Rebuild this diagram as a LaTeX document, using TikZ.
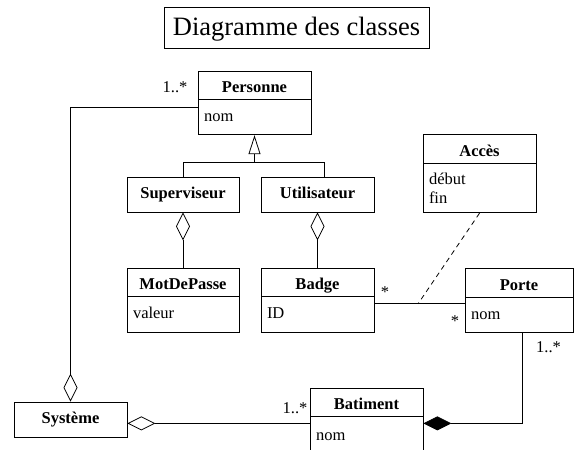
\documentclass[tikz,border=0pt]{standalone}
\usepackage{fontspec}
\setmainfont{Liberation Serif}
\usetikzlibrary{positioning,arrows.meta}

\begin{document}
\begin{tikzpicture}[
  x=1pt,
  y=-1pt,
  line width=0.8pt,
  font=\fontsize{16.5}{19}\selectfont,
  classname/.style={
    draw,
    font=\fontsize{16.5}{19}\selectfont\bfseries,
    minimum width=113pt,
    minimum height=28pt,
    text height=15pt,
    text depth=0pt,
    inner sep=0pt
  },
  classonly/.style={
    classname,
    minimum height=35pt,
    text height=12pt,
    text depth=4pt
  },
  classattr/.style={
    draw,
    anchor=north,
    text width=101pt,
    inner xsep=6pt,
    inner ysep=0pt,
    align=left,
    minimum height=35pt,
    text height=12pt,
    text depth=4pt
  },
  mult/.style={
    inner sep=0pt,
    anchor=base
  },
  aggr/.style={
    -{Diamond[open, length=28pt, width=14pt]}
  },
  comp/.style={
    -{Diamond[length=28pt, width=14pt]}
  },
  gen/.style={
    -{Triangle[open, length=19pt, width=12pt]}
  },
]
\useasboundingbox (0,0) rectangle (574,450);

\node[draw, font=\fontsize{26.5}{32}\selectfont, minimum width=265pt, minimum height=41pt,
  text height=20pt, text depth=5pt, inner sep=0pt] (titre) at (296.5,27.5) {Diagramme des classes};

% classes
\node[classname] (personne) at (254.5,85) {Personne};
\node[classattr, below=0pt of personne] (personne-attr) {nom};

\node[classonly, minimum width=112pt] (superviseur) at (183,194.5) {Superviseur};
\node[classonly] (utilisateur) at (317.5,194.5) {Utilisateur};

\node[classname, minimum width=112pt] (motdepasse) at (183,282) {MotDePasse};
\node[classattr, text width=100pt, minimum height=36pt, below=0pt of motdepasse] (motdepasse-attr) {valeur};

\node[classname] (badge) at (317.5,282) {Badge};
\node[classattr, minimum height=36pt, below=0pt of badge] (badge-attr) {ID};

\node[classname, minimum height=29pt] (acces) at (479.5,148.5) {Accès};
\node[classattr, minimum height=49pt, text height={}, text depth={}, below=0pt of acces] (acces-attr) {début\\fin};

\node[classname, minimum width=108pt, minimum height=29pt] (porte) at (519,282.5) {Porte};
\node[classattr, text width=96pt, below=0pt of porte] (porte-attr) {nom};

\node[classonly] (systeme) at (70.5,419.5) {Système};

\node[classname] (batiment) at (366.5,402) {Batiment};
\node[classattr, minimum height=40pt, below=0pt of batiment] (batiment-attr) {nom};

% heritage
\path (personne-attr.south |- superviseur.north) ++(0,-14) coordinate (heritage);
\draw[gen] (heritage) -- (personne-attr.south);
\draw (superviseur.north) |- (heritage) -| ([xshift=6.5pt]utilisateur.north);

% agregations
\draw[aggr] (motdepasse.north) -- (superviseur.south);
\draw[aggr] (badge.north) -- (utilisateur.south);
\draw[aggr] ([yshift=9.5pt]personne-attr.west) -| (systeme.north);
\node[mult] (m-personne) at (175,92.5) {1..*};

% Badge -- Porte, classe d'association
\coordinate (badge-droite) at ([yshift=11pt]badge-attr.east);
\draw (badge-droite) -- coordinate[pos=0.484] (acces-lien) (badge-droite -| porte-attr.west);
\draw[dash pattern=on 5pt off 4pt] (acces-attr.south) -- (acces-lien);
\node[mult] (m-badge) at (385,297) {*};
\node[mult] (m-porte) at (455,326) {*};

% Porte -- Batiment
\coordinate (bat-droite) at ([yshift=-7pt]batiment-attr.north east);
\coordinate (bat-gauche) at ([yshift=-7pt]batiment-attr.north west);
\draw[comp] ([xshift=3pt]porte-attr.south) |- (bat-droite);
\node[mult] (m-porte-bat) at (548.5,352.5) {1..*};

% Systeme -- Batiment
\draw[aggr] (bat-gauche) -- (bat-gauche -| systeme.east);
\node[mult] (m-batiment) at (295,413.5) {1..*};
\end{tikzpicture}
\end{document}
